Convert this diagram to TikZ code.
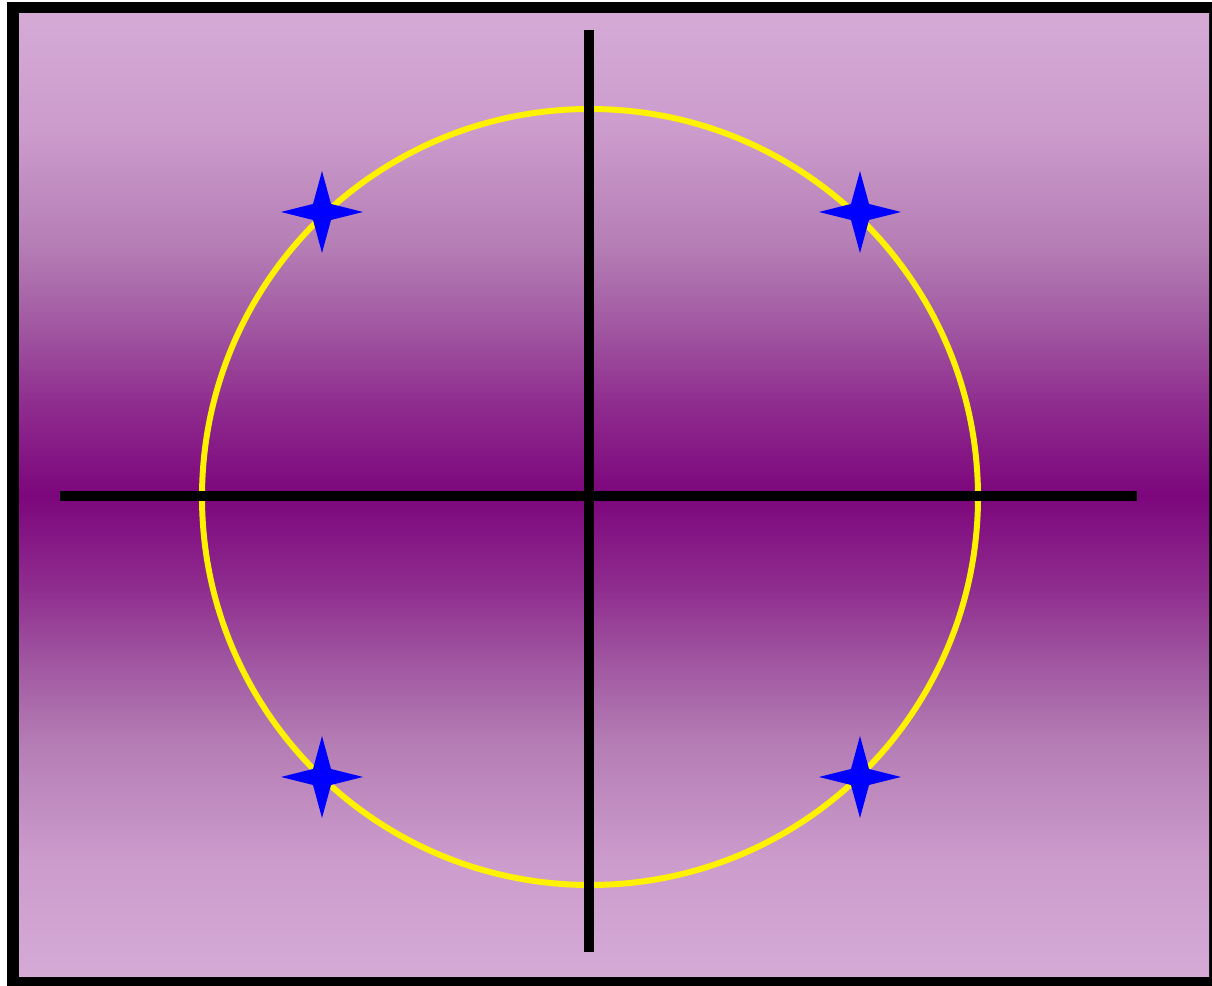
\documentclass[tikz,border=0pt]{standalone}
\definecolor{bgA}{HTML}{D5AAD5}
\definecolor{bgB}{HTML}{CC9CCC}
\definecolor{bgC}{HTML}{B57EB5}
\definecolor{bgD}{HTML}{A25AA2}
\definecolor{bgE}{HTML}{8E2A8E}
\definecolor{bgF}{HTML}{7C067C}
\definecolor{ringyellow}{HTML}{FFF200}
\definecolor{starblue}{HTML}{0000FF}
\pgfdeclareverticalshading{purplebg}{100bp}{%
  color(0bp)=(bgA); color(25bp)=(bgA); color(31bp)=(bgB); color(37bp)=(bgC);
  color(41bp)=(bgD); color(45.5bp)=(bgE); color(50bp)=(bgF);
  color(54.5bp)=(bgE); color(59bp)=(bgD); color(63bp)=(bgC);
  color(69bp)=(bgB); color(75bp)=(bgA); color(100bp)=(bgA)}
\tikzset{
  axisline/.style={line width=2.8pt, draw=black},
  ring/.style={line width=1.7pt, draw=ringyellow},
  starshape/.style={fill=starblue, draw=none},
}
\newcommand{\fourstar}[2]{%
  \fill[starshape] (#1,#2) ++(-41,0) -- ++(32,-8) -- ++(9,-33) -- ++(9,33) -- ++(32,8)
    -- ++(-32,8) -- ++(-9,33) -- ++(-9,-33) -- cycle;}
\begin{document}
\begin{tikzpicture}[x=0.01cm,y=-0.01cm]
  \useasboundingbox (0,0) rectangle (1212,986);
  \fill[white] (0,0) rectangle (1212,986);
  % frame
  \fill[black] (7,2) rectangle (1212,986);
  \shade[shading=purplebg] (19,14) rectangle (1209,977);
  % circle
  \coordinate (c) at (590,497);
  \draw[ring] (c) circle[radius=388];
  % axes
  \coordinate (vt) at (589,30);
  \coordinate (vb) at (589,952);
  \coordinate (hl) at (60,496);
  \coordinate (hr) at (1137,496);
  \draw[axisline] (vt) -- (vb);
  \draw[axisline] (hl) -- (hr);
  % stars
  \fourstar{322}{212}
  \fourstar{860}{212}
  \fourstar{322}{777}
  \fourstar{860}{777}
\end{tikzpicture}
\end{document}
